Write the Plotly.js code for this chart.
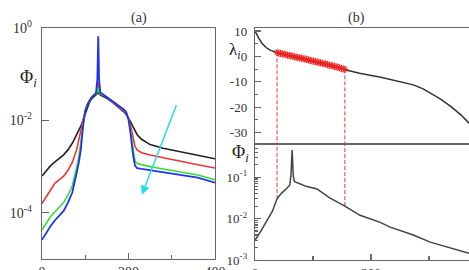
<!DOCTYPE html>
<html>
<head>
<meta charset="utf-8">
<script src="https://cdn.plot.ly/plotly-3.0.1.min.js"></script>
<style>html,body{margin:0;padding:0;background:#fff;}#chart{width:469px;height:270px;}</style>
</head>
<body>
<div id="chart"></div>
<script>
// Panel (a): profiles Phi_i versus site index for four parameter values
const idxA = [0,10,20,30,40,50,60,70,80,85,90,95,100,105,110,115,120,125,128,129,130,131,132,135,140,150,160,170,180,190,195,200,205,210,215,220,230,250,280,320,360,400];
const phiBlack = [6.3e-4,8.3e-4,1.05e-3,1.26e-3,1.5e-3,1.8e-3,2.3e-3,3.2e-3,4.9e-3,6.0e-3,7.6e-3,1.02e-2,1.41e-2,1.9e-2,2.5e-2,2.95e-2,3.3e-2,3.5e-2,3.8e-2,4.2e-2,4.6e-2,4.2e-2,3.8e-2,3.55e-2,3.4e-2,3.0e-2,2.6e-2,2.2e-2,1.86e-2,1.51e-2,1.32e-2,1.12e-2,9.3e-3,7.4e-3,5.9e-3,4.9e-3,3.9e-3,3.0e-3,2.5e-3,2.1e-3,1.78e-3,1.48e-3];
const phiRed = [1.58e-4,2.2e-4,3.2e-4,4.4e-4,5.2e-4,6.2e-4,8.3e-4,1.23e-3,2.3e-3,3.8e-3,6.6e-3,1.12e-2,1.66e-2,2.2e-2,2.75e-2,3.2e-2,3.5e-2,3.8e-2,4.6e-2,5.6e-2,6.8e-2,5.5e-2,4.4e-2,3.7e-2,3.55e-2,3.2e-2,2.6e-2,2.2e-2,1.9e-2,1.58e-2,1.38e-2,1.1e-2,7.6e-3,4.2e-3,2.75e-3,2.3e-3,2.0e-3,1.78e-3,1.55e-3,1.29e-3,1.1e-3,9.3e-4];
const phiGreen = [4.3e-5,6.0e-5,8.3e-5,1.05e-4,1.32e-4,1.66e-4,2.4e-4,3.8e-4,9.5e-4,1.58e-3,3.5e-3,8.9e-3,1.66e-2,2.2e-2,2.75e-2,3.2e-2,3.55e-2,3.8e-2,4.2e-2,4.8e-2,5.2e-2,4.7e-2,4.2e-2,3.8e-2,3.6e-2,3.2e-2,2.7e-2,2.3e-2,1.95e-2,1.66e-2,1.45e-2,1.05e-2,5.6e-3,2.4e-3,1.32e-3,1.17e-3,1.1e-3,1.0e-3,8.9e-4,7.8e-4,6.6e-4,5.2e-4];
const phiBlue = [2.6e-5,3.8e-5,5.2e-5,6.9e-5,8.7e-5,1.1e-4,1.66e-4,2.75e-4,7.2e-4,1.2e-3,2.4e-3,7.6e-3,1.58e-2,2.2e-2,2.7e-2,3.2e-2,3.5e-2,4.0e-2,7.9e-2,0.25,0.66,0.24,7.6e-2,4.0e-2,3.7e-2,3.3e-2,2.75e-2,2.35e-2,2.0e-2,1.7e-2,1.48e-2,1.05e-2,5.0e-3,1.9e-3,1.05e-3,9.3e-4,8.9e-4,8.3e-4,7.4e-4,6.6e-4,5.8e-4,4.5e-4];
// direction arrow in panel (a): [index, log10(Phi)]
const arrowTail = [312, -1.64];
const arrowHead = [231, -3.61];

// Panel (b), top: eigenvalues lambda_i
const idxL = [0,3,7,12,19,26,32,38,50,70,90,110,130,155,180,217,250,273,290,308,320,338,355,369];
const lambdaVals = [10,8.6,7.0,5.2,3.5,2.5,1.9,1.5,0.8,-0.3,-1.4,-2.5,-3.7,-5.1,-6.6,-8.2,-9.9,-11.2,-12.8,-15.0,-16.8,-19.8,-23.0,-26.3];
// selected eigenvalues, highlighted
const selIdx = [38,41,44,47,50,53,56,59,62,65,68,71,74,77,80,83,86,89,92,95,98,101,104,107,110,113,116,119,122,125,128,131,134,137,140,143,146,149,152,155];
const selVals = [1.6,1.3,1.2,1.0,0.9,0.7,0.5,0.4,0.2,0.1,-0.1,-0.3,-0.4,-0.6,-0.7,-0.9,-1.0,-1.2,-1.4,-1.5,-1.7,-1.9,-2.0,-2.2,-2.4,-2.5,-2.7,-2.9,-3.0,-3.2,-3.4,-3.6,-3.7,-3.9,-4.1,-4.3,-4.5,-4.7,-4.9,-5.1];

// Panel (b), bottom: profile Phi_i
const idxP = [0,4,9,15,21,30,38,45,55,60,62,63,64,65,66,68,72,88,107,128,155,181,216,233,273,302,336,369];
const phiB = [3.0e-3,3.8e-3,4.7e-3,6.6e-3,9.1e-3,1.51e-2,3.0e-2,4.0e-2,5.4e-2,6.5e-2,0.11,0.28,0.45,0.22,0.105,7.9e-2,7.4e-2,6.0e-2,5.2e-2,3.2e-2,2.0e-2,1.2e-2,8.1e-3,6.2e-3,4.0e-3,2.7e-3,2.0e-3,1.45e-3];

// axis limits
const rangeA = {x: [0, 400], y: [-5, 0]};
const rangeL = [-34.5, 11.2];
const rangeP = [-3, -0.2];

const serif = 'Liberation Serif, Times New Roman, serif';
const axisCol = '#666';

const selFirst = 0, selLast = selIdx.length - 1;
function phiAt(i) { return phiB[idxP.indexOf(i)]; }

const guide = {color: '#ee3333', width: 1, dash: '4px,2px'};

const traces = [
  {x: idxA, y: phiBlack, xaxis: 'x', yaxis: 'y', mode: 'lines', line: {color: '#222', width: 1.6}},
  {x: idxA, y: phiRed, xaxis: 'x', yaxis: 'y', mode: 'lines', line: {color: '#ee3333', width: 1.6}},
  {x: idxA, y: phiGreen, xaxis: 'x', yaxis: 'y', mode: 'lines', line: {color: '#33dd33', width: 1.6}},
  {x: idxA, y: phiBlue, xaxis: 'x', yaxis: 'y', mode: 'lines', line: {color: '#2233ee', width: 1.8}},

  // dashed guides from the selected window down to the profile
  {x: [selIdx[selFirst], selIdx[selFirst]], y: [selVals[selFirst], rangeL[0]], xaxis: 'x2', yaxis: 'y2', mode: 'lines', line: guide},
  {x: [selIdx[selLast], selIdx[selLast]], y: [selVals[selLast], rangeL[0]], xaxis: 'x2', yaxis: 'y2', mode: 'lines', line: guide},
  {x: [selIdx[selFirst], selIdx[selFirst]], y: [phiAt(selIdx[selFirst]), Math.pow(10, rangeP[1])], xaxis: 'x3', yaxis: 'y3', mode: 'lines', line: guide},
  {x: [selIdx[selLast], selIdx[selLast]], y: [phiAt(selIdx[selLast]), Math.pow(10, rangeP[1])], xaxis: 'x3', yaxis: 'y3', mode: 'lines', line: guide},

  {x: idxL, y: lambdaVals, xaxis: 'x2', yaxis: 'y2', mode: 'lines', line: {color: '#333', width: 1.5}},
  {x: selIdx, y: selVals, xaxis: 'x2', yaxis: 'y2', mode: 'markers',
   marker: {symbol: 'asterisk-open', size: 6, color: '#ee2222', line: {color: '#ee2222', width: 1}}},

  {x: idxP, y: phiB, xaxis: 'x3', yaxis: 'y3', mode: 'lines', line: {color: '#444', width: 1.5}}
];

const tickFont = {family: serif, size: 14, color: '#333'};
const tickFontB = {family: serif, size: 13, color: '#333'};
const base = {showgrid: false, zeroline: false, showline: true, linecolor: axisCol, linewidth: 1.2,
              ticks: 'inside', tickcolor: axisCol, tickwidth: 1.2};

function minorLog(decades) {
  const v = [];
  decades.forEach(d => { for (let k = 2; k <= 9; k++) v.push(k * Math.pow(10, d)); });
  return v;
}

const layout = {
  width: 469, height: 270,
  margin: {l: 0, r: 0, t: 0, b: 0},
  paper_bgcolor: '#fff', plot_bgcolor: '#fff',
  showlegend: false,
  xaxis: Object.assign({}, base, {domain: [42/469, 215/469], range: rangeA.x, anchor: 'y', mirror: true,
    tickmode: 'array', tickvals: [0, 200, 400], ticklen: 6, tickfont: tickFont,
    minor: {tickmode: 'array', tickvals: [100, 300], ticklen: 4, ticks: 'inside', tickcolor: axisCol}}),
  yaxis: Object.assign({}, base, {type: 'log', domain: [1 - 259/270, 1 - 28/270], range: rangeA.y, anchor: 'x', mirror: true,
    tickmode: 'array', tickvals: [1, 1e-2, 1e-4], ticktext: ['10<sup>0</sup>', '10<sup>-2</sup>', '10<sup>-4</sup>'],
    ticklen: 7, tickfont: tickFont, ticklabelstandoff: 6}),
  xaxis2: Object.assign({}, base, {domain: [255/469, 1], range: [0, 369], anchor: 'y2', mirror: true,
    ticks: '', showticklabels: false}),
  yaxis2: Object.assign({}, base, {domain: [1 - 144/270, 1 - 28/270], range: rangeL, anchor: 'x2',
    tickmode: 'array', tickvals: [10, 0, -10, -20, -30], ticktext: ['10', '0', '-10', '-20', '-30'],
    ticklen: 6, tickfont: tickFontB, ticklabelstandoff: 4,
    minor: {tickmode: 'array', tickvals: [5, -5, -15, -25], ticklen: 3, ticks: 'inside', tickcolor: axisCol}}),
  xaxis3: Object.assign({}, base, {domain: [255/469, 1], range: [0, 369], anchor: 'y3', mirror: true,
    tickmode: 'array', tickvals: [0, 200], ticklen: 6, tickfont: tickFontB,
    minor: {tickmode: 'array', tickvals: [100, 300], ticklen: 4, ticks: 'inside', tickcolor: axisCol}}),
  yaxis3: Object.assign({}, base, {type: 'log', domain: [1 - 260/270, 1 - 144/270], range: rangeP, anchor: 'x3',
    tickmode: 'array', tickvals: [1e-3, 1e-2, 1e-1], ticktext: ['10<sup>-3</sup>', '10<sup>-2</sup>', '10<sup>-1</sup>'],
    ticklen: 6, tickfont: tickFontB, ticklabelstandoff: 4,
    minor: {tickmode: 'array', tickvals: minorLog([-3, -2, -1]), ticklen: 3, ticks: 'inside', tickcolor: axisCol}}),
  annotations: [
    {text: '(a)', xref: 'paper', yref: 'paper', x: 129/469, y: 1 - 8/270, showarrow: false,
     font: {family: serif, size: 14, color: '#333'}},
    {text: '(b)', xref: 'paper', yref: 'paper', x: 367/469, y: 1 - 8/270, showarrow: false,
     font: {family: serif, size: 14, color: '#333'}},
    {text: 'Φ<sub><i>i</i></sub>', xref: 'paper', yref: 'paper', x: 18/469, y: 1 - 65/270, showarrow: false,
     font: {family: serif, size: 18, color: '#222'}},
    {text: 'λ<sub><i>i</i></sub>', xref: 'paper', yref: 'paper', x: 235/469, y: 1 - 38/270, showarrow: false,
     font: {family: serif, size: 17, color: '#222'}},
    {text: 'Φ<sub><i>i</i></sub>', xref: 'paper', yref: 'paper', x: 240/469, y: 1 - 153/270, showarrow: false,
     font: {family: serif, size: 18, color: '#222'}},
    {text: '', xref: 'x', yref: 'y', axref: 'x', ayref: 'y',
     x: arrowHead[0], y: arrowHead[1], ax: arrowTail[0], ay: arrowTail[1],
     showarrow: true, arrowhead: 2, arrowsize: 1.2, arrowwidth: 1.5, arrowcolor: '#22ddee'}
  ]
};

Plotly.newPlot('chart', traces, layout, {staticPlot: true, displayModeBar: false});
</script>
</body>
</html>
